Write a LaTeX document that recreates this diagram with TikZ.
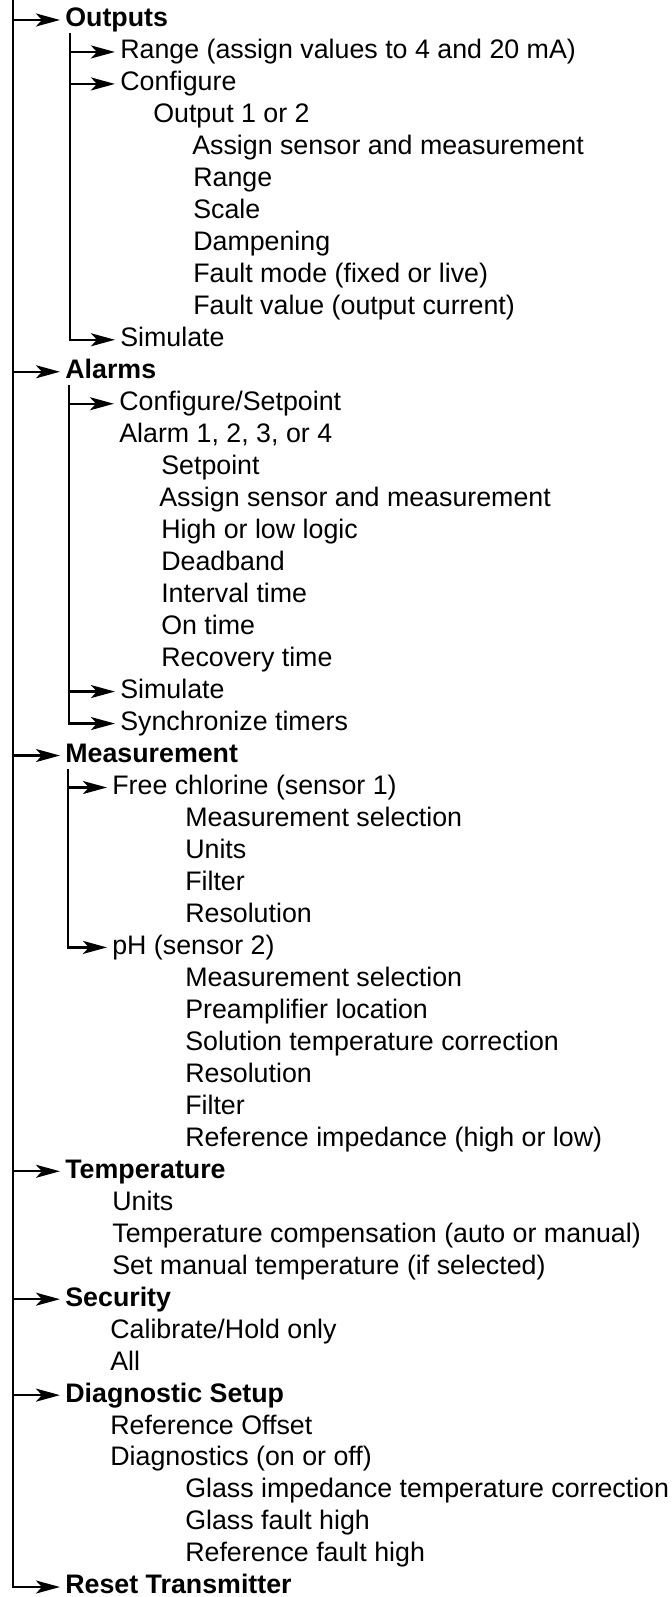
\documentclass[tikz,border=0pt]{standalone}
\usepackage{fontspec}
\setmainfont{Liberation Sans}
\usetikzlibrary{arrows.meta}

\begin{document}
\begin{tikzpicture}[
    x=0.5pt, y=-16pt,
    item/.style={anchor=west, inner sep=0pt, text height=9.6pt, text depth=2.7pt, font=\fontsize{13.4}{16}\selectfont},
    head/.style={item, font=\fontsize{13.4}{16}\selectfont\bfseries},
    arrow/.style={-{Stealth[length=12pt, width=6.5pt, inset=3pt]}, line width=1.2pt, shorten >=2.5pt}
]
\useasboundingbox (0,-0.625) rectangle (672,49.3125);

\node[head] (outputs) at (65,0) {Outputs};
\node[item] (outrange) at (120,1) {Range (assign values to 4 and 20 mA)};
\node[item] (outconf) at (120,2) {Configure};
\node[item] (outnum) at (153,3) {Output 1 or 2};
\node[item] (outassign) at (192,4) {Assign sensor and measurement};
\node[item] (outrng) at (193,5) {Range};
\node[item] (outscale) at (193,6) {Scale};
\node[item] (outdamp) at (193,7) {Dampening};
\node[item] (outfmode) at (193,8) {Fault mode (fixed or live)};
\node[item] (outfval) at (193,9) {Fault value (output current)};
\node[item] (outsim) at (120,10) {Simulate};

\node[head] (alarms) at (65,11) {Alarms};
\node[item] (alconf) at (119,12) {Configure/Setpoint};
\node[item] (alnum) at (119,13) {Alarm 1, 2, 3, or 4};
\node[item] (alset) at (161,14) {Setpoint};
\node[item] (alassign) at (159,15) {Assign sensor and measurement};
\node[item] (allogic) at (161,16) {High or low logic};
\node[item] (aldead) at (161,17) {Deadband};
\node[item] (alint) at (161,18) {Interval time};
\node[item] (alon) at (161,19) {On time};
\node[item] (alrec) at (161,20) {Recovery time};
\node[item] (alsim) at (120,21) {Simulate};
\node[item] (alsync) at (120,22) {Synchronize timers};

\node[head] (meas) at (65,23) {Measurement};
\node[item] (mcl) at (112,24) {Free chlorine (sensor 1)};
\node[item] (mclsel) at (185,25) {Measurement selection};
\node[item] (mclunits) at (185,26) {Units};
\node[item] (mclfilter) at (185,27) {Filter};
\node[item] (mclres) at (185,28) {Resolution};
\node[item] (mph) at (112,29) {pH (sensor 2)};
\node[item] (mphsel) at (185,30) {Measurement selection};
\node[item] (mphpre) at (185,31) {Preamplifier location};
\node[item] (mphsol) at (185,32) {Solution temperature correction};
\node[item] (mphres) at (185,33) {Resolution};
\node[item] (mphfilter) at (185,34) {Filter};
\node[item] (mphref) at (185,35) {Reference impedance (high or low)};

\node[head] (temp) at (65,36) {Temperature};
\node[item] (tunits) at (112,37) {Units};
\node[item] (tcomp) at (112,38) {Temperature compensation (auto or manual)};
\node[item] (tset) at (112,39) {Set manual temperature (if selected)};

\node[head] (sec) at (65,40) {Security};
\node[item] (seccal) at (110,41) {Calibrate/Hold only};
\node[item] (secall) at (110,42) {All};

\node[head] (diag) at (65,43) {Diagnostic Setup};
\node[item] (dref) at (110,44) {Reference Offset};
\node[item] (ddiag) at (110,45) {Diagnostics (on or off)};
\node[item] (dglass) at (185,46) {Glass impedance temperature correction};
\node[item] (dghigh) at (185,47) {Glass fault high};
\node[item] (drhigh) at (185,48) {Reference fault high};

\node[head] (reset) at (65,49) {Reset Transmitter};

\coordinate (maintop) at (13,-0.625);
\coordinate (outtop) at (70,0.42);
\coordinate (altop) at (69,11.42);
\coordinate (meastop) at (68,23.42);

\draw[arrow] (maintop) |- (reset.west);
\draw[arrow] (maintop |- outputs.west) -- (outputs.west);
\draw[arrow] (maintop |- alarms.west) -- (alarms.west);
\draw[arrow] (maintop |- meas.west) -- (meas.west);
\draw[arrow] (maintop |- temp.west) -- (temp.west);
\draw[arrow] (maintop |- sec.west) -- (sec.west);
\draw[arrow] (maintop |- diag.west) -- (diag.west);

\draw[arrow] (outtop) |- (outsim.west);
\draw[arrow] (outtop |- outrange.west) -- (outrange.west);
\draw[arrow] (outtop |- outconf.west) -- (outconf.west);

\draw[arrow] (altop) |- (alsync.west);
\draw[arrow] (altop |- alconf.west) -- (alconf.west);
\draw[arrow] (altop |- alsim.west) -- (alsim.west);

\draw[arrow] (meastop) |- (mph.west);
\draw[arrow] (meastop |- mcl.west) -- (mcl.west);
\end{tikzpicture}
\end{document}
